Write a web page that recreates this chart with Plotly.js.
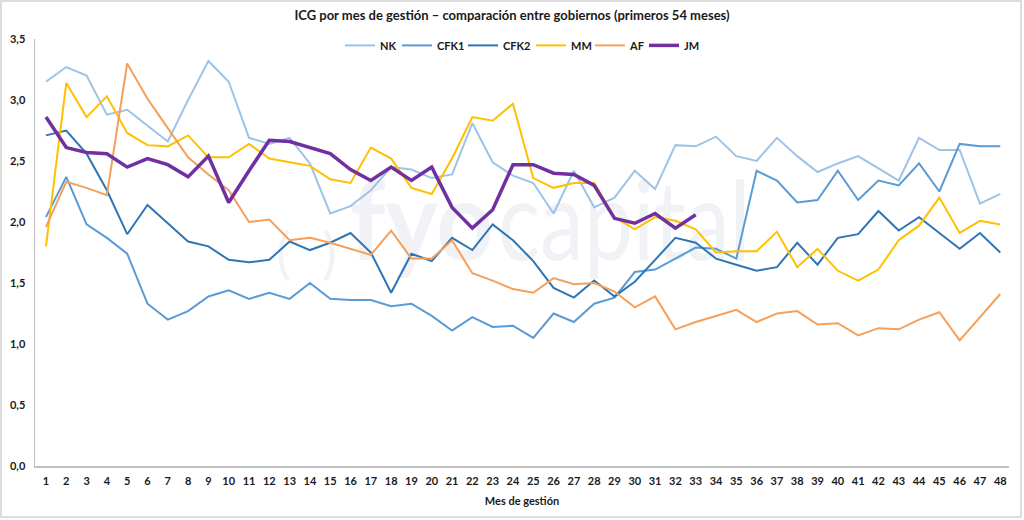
<!DOCTYPE html>
<html>
<head>
<meta charset="utf-8">
<script src="https://cdn.plot.ly/plotly-3.0.1.min.js"></script>
<style>
  html, body { margin: 0; padding: 0; background: #ffffff; }
  #wrap { position: relative; width: 1024px; height: 520px; overflow: hidden; }
  #frame { position: absolute; left: 0; top: 0; width: 1018px; height: 514px; border: 2px solid #dcdcdc; }
  .wm { position: absolute; color: #f1f2f6; font-family: Lato, "Open Sans", sans-serif; line-height: 1; white-space: nowrap; transform-origin: left top; }
  #chart { position: absolute; left: 0; top: 0; width: 1024px; height: 520px; }
</style>
</head>
<body>
<div id="wrap">
  <div id="frame"></div>
  <div class="wm" style="left:276px; top:224px; font-size:56px; font-weight:400;">(</div>
  <div class="wm" style="left:322px; top:224px; font-size:56px; font-weight:400;">)</div>
  <div class="wm" style="left:350px; top:162px; font-size:110px; font-weight:700; transform:scaleX(0.9);">fyo</div>
  <div class="wm" style="left:498px; top:162px; font-size:110px; font-weight:400; transform:scaleX(0.8);">capital</div>
  <div id="chart"></div>
</div>
<script>
const months = Array.from({length: 48}, (_, i) => i + 1);
const seriesNames = ["NK", "CFK1", "CFK2", "MM", "AF", "JM"];

const NK = [3.15,3.27,3.20,2.88,2.92,2.79,2.66,3.00,3.32,3.15,
            2.69,2.64,2.69,2.48,2.07,2.13,2.26,2.45,2.43,2.36,
            2.39,2.81,2.49,2.38,2.32,2.07,2.42,2.12,2.20,2.42,
            2.27,2.63,2.62,2.70,2.54,2.50,2.69,2.54,2.41,2.48,
            2.54,2.44,2.34,2.69,2.59,2.59,2.15,2.23];
const CFK1 = [2.04,2.37,1.98,1.87,1.74,1.33,1.20,1.27,1.39,1.44,
              1.37,1.42,1.37,1.50,1.37,1.36,1.36,1.31,1.33,1.23,
              1.11,1.22,1.14,1.15,1.05,1.25,1.18,1.33,1.38,1.59,
              1.61,1.70,1.79,1.78,1.70,2.42,2.34,2.16,2.18,2.42,
              2.18,2.34,2.30,2.48,2.25,2.64,2.62,2.62];
const CFK2 = [2.71,2.75,2.56,2.26,1.90,2.14,1.99,1.84,1.80,1.69,
              1.67,1.69,1.84,1.77,1.83,1.91,1.75,1.42,1.74,1.68,
              1.87,1.77,1.98,1.85,1.68,1.46,1.38,1.52,1.39,1.51,
              1.69,1.87,1.83,1.70,1.65,1.60,1.63,1.83,1.65,1.87,
              1.90,2.09,1.93,2.04,1.91,1.78,1.91,1.75];
const MM = [1.80,3.14,2.86,3.03,2.73,2.63,2.62,2.71,2.53,2.53,
            2.64,2.52,2.49,2.46,2.35,2.32,2.61,2.52,2.28,2.23,
            2.52,2.86,2.83,2.97,2.36,2.28,2.32,2.32,2.04,1.94,
            2.04,2.01,1.94,1.75,1.76,1.76,1.92,1.63,1.78,1.60,
            1.52,1.61,1.85,1.97,2.20,1.91,2.01,1.98];
const AF = [1.96,2.33,2.28,2.22,3.30,3.01,2.77,2.53,2.39,2.26,
            2.00,2.02,1.85,1.87,1.83,1.78,1.73,1.93,1.70,1.70,
            1.85,1.58,1.52,1.45,1.42,1.54,1.49,1.50,1.43,1.30,
            1.39,1.12,1.18,1.23,1.28,1.18,1.25,1.27,1.16,1.17,
            1.07,1.13,1.12,1.20,1.26,1.03,1.22,1.41];
const JM = [2.86,2.61,2.57,2.56,2.45,2.52,2.47,2.37,2.54,2.16,
            2.42,2.67,2.66,2.61,2.56,2.43,2.34,2.45,2.34,2.45,
            2.12,1.95,2.10,2.47,2.47,2.40,2.39,2.30,2.03,1.99,
            2.07,1.95,2.06];

const values = [NK, CFK1, CFK2, MM, AF, JM];
const colors = ["#9dc3e6", "#5b9bd5", "#2e75b6", "#ffc000", "#f5a05a", "#7030a0"];
const widths = [2, 2, 2, 2, 2, 3.5];
const legendWidths = [12, 21, 23, 14, 9, 15];

const traces = seriesNames.map((name, i) => ({
  type: "scatter",
  mode: "lines",
  name: name,
  x: months.slice(0, values[i].length),
  y: values[i],
  line: { color: colors[i], width: widths[i] },
  legendwidth: legendWidths[i],
  hoverinfo: "x+y+name"
}));

const fontFam = "Lato, 'Open Sans', sans-serif";
const layout = {
  width: 1024,
  height: 520,
  paper_bgcolor: "rgba(0,0,0,0)",
  plot_bgcolor: "rgba(0,0,0,0)",
  separators: ",.",
  margin: { l: 35, r: 15, t: 39, b: 54 },
  font: { family: fontFam, color: "#1a1a1a", size: 11, weight: 700 },
  title: {
    text: "ICG por mes de gestión – comparación entre gobiernos (primeros 54 meses)",
    x: 0.5, xref: "container",
    y: 0.971, yref: "container", yanchor: "middle",
    font: { family: fontFam, size: 13, weight: 700, color: "#1a1a1a" }
  },
  showlegend: true,
  legend: {
    orientation: "h",
    x: 0.5, xanchor: "center",
    y: 1.019, yanchor: "top",
    font: { family: fontFam, size: 11, weight: 700, color: "#1a1a1a" },
    bgcolor: "rgba(0,0,0,0)",
    itemwidth: 30
  },
  xaxis: {
    range: [0.46, 48.43],
    tickmode: "array",
    tickvals: months,
    ticktext: months.map(String),
    showgrid: false,
    zeroline: false,
    showline: true,
    linecolor: "#bfbfbf",
    linewidth: 1.5,
    ticks: "",
    ticklabelstandoff: 4,
    tickfont: { family: fontFam, size: 11, weight: 700, color: "#1a1a1a" },
    title: { text: "Mes de gestión", standoff: 11, font: { family: fontFam, size: 11, weight: 700, color: "#1a1a1a" } },
    fixedrange: true
  },
  yaxis: {
    range: [0, 3.5],
    tickmode: "linear",
    tick0: 0,
    dtick: 0.5,
    tickformat: ".1f",
    showgrid: false,
    zeroline: false,
    showline: true,
    linecolor: "#bfbfbf",
    linewidth: 1.5,
    ticks: "",
    ticklabelstandoff: 6,
    tickfont: { family: fontFam, size: 11, weight: 700, color: "#1a1a1a" },
    fixedrange: true
  }
};

Plotly.newPlot("chart", traces, layout, { displayModeBar: false, staticPlot: true });
</script>
</body>
</html>
